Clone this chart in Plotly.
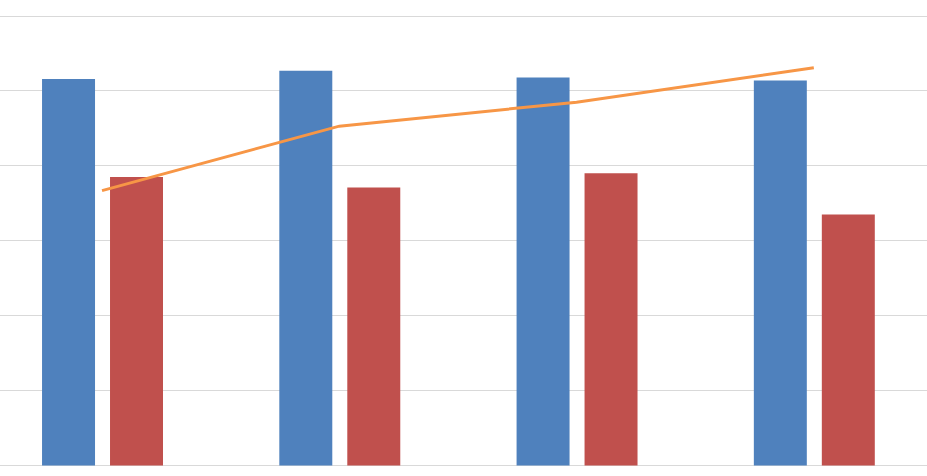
import plotly.graph_objects as go

categories = ["Q1", "Q2", "Q3", "Q4"]
series_a = [51.6, 52.7, 51.8, 51.4]
series_b = [38.5, 37.1, 39.0, 33.5]
series_line = [36.7, 45.3, 48.5, 53.1]

x_idx = list(range(len(categories)))

fig = go.Figure()
fig.add_trace(go.Bar(x=x_idx, y=series_a, width=0.2233, offset=-0.2528,
                     marker=dict(color="#4F81BD", line=dict(width=0)), name="A"))
fig.add_trace(go.Bar(x=x_idx, y=series_b, width=0.2233, offset=0.0337,
                     marker=dict(color="#C0504D", line=dict(width=0)), name="B"))
fig.add_trace(go.Scatter(x=x_idx, y=series_line, mode="lines",
                         line=dict(color="#F79646", width=3), name="C"))

fig.update_layout(
    width=927, height=476,
    margin=dict(l=0, r=0, t=0, b=0),
    paper_bgcolor="white", plot_bgcolor="white",
    showlegend=False,
    barmode="overlay",
    xaxis=dict(range=[-0.43, 3.477], showgrid=False, zeroline=False,
               showticklabels=False, ticks=""),
    yaxis=dict(range=[-1.40, 62.14], tickvals=[0, 10, 20, 30, 40, 50, 60],
               showgrid=True, gridcolor="#D9D9D9", gridwidth=1,
               zeroline=False, showticklabels=False, ticks=""),
)

fig.write_html(
    "out.html",
    config={"displayModeBar": False},
    post_script="document.body.style.margin='0';document.body.style.padding='0';document.body.style.overflow='hidden';",
)
